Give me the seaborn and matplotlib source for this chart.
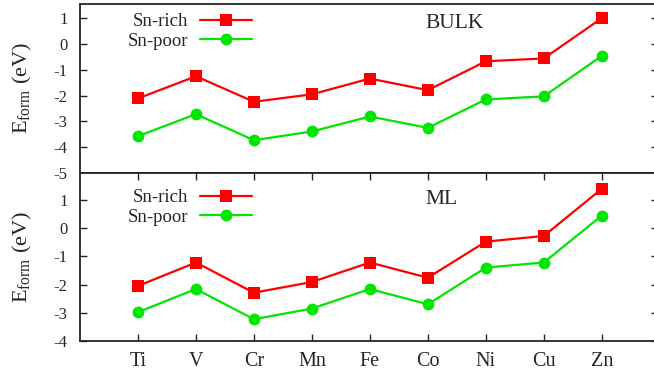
import matplotlib
matplotlib.use("Agg")
import matplotlib.pyplot as plt
import seaborn as sns
import pandas as pd

elements = ["Ti", "V", "Cr", "Mn", "Fe", "Co", "Ni", "Cu", "Zn"]
bulk_rich = [-2.11, -1.25, -2.24, -1.95, -1.34, -1.79, -0.67, -0.56, 1.00]
bulk_poor = [-3.57, -2.72, -3.73, -3.39, -2.81, -3.25, -2.15, -2.03, -0.46]
ml_rich = [-2.05, -1.22, -2.29, -1.91, -1.22, -1.76, -0.48, -0.28, 1.39]
ml_poor = [-2.98, -2.16, -3.23, -2.85, -2.16, -2.70, -1.40, -1.22, 0.44]
series_names = ["Sn-rich", "Sn-poor"]
panel_titles = ["BULK", "ML"]

sns.set_style("ticks")
plt.rcParams["font.family"] = ["Liberation Serif", "DejaVu Serif"]
plt.rcParams["mathtext.fontset"] = "custom"
plt.rcParams["mathtext.rm"] = "Liberation Serif"
plt.rcParams["mathtext.it"] = "Liberation Serif:italic"
plt.rcParams["axes.unicode_minus"] = False

W, H = 654, 380
fig = plt.figure(figsize=(W / 100, H / 100), dpi=100)
x0, x1 = 80, 658
left = x0 / W
width = (x1 - x0) / W
ax1 = fig.add_axes([left, 1 - 173 / H, width, (173 - 4) / H])
ax2 = fig.add_axes([left, 1 - 341 / H, width, (341 - 173) / H])

pos = list(range(1, len(elements) + 1))
palette = {"Sn-rich": "#ff0000", "Sn-poor": "#00e600"}
markers = {"Sn-rich": "s", "Sn-poor": "o"}

def make_df(rich, poor):
    return pd.DataFrame({
        "x": pos + pos,
        "E": list(rich) + list(poor),
        "series": [series_names[0]] * len(pos) + [series_names[1]] * len(pos),
    })

for ax, rich, poor, title, ylim, yticks, tx, ty in [
    (ax1, bulk_rich, bulk_poor, panel_titles[0], (-5, 1.55), range(-5, 2), 455, 24),
    (ax2, ml_rich, ml_poor, panel_titles[1], (-4, 1.95), range(-4, 2), 442, 199),
]:
    df = make_df(rich, poor)
    sns.lineplot(data=df, x="x", y="E", hue="series", style="series",
                 palette=palette, markers=markers, dashes=False,
                 markersize=8.5, linewidth=1.6, markeredgewidth=0,
                 ax=ax, legend=True)
    ax.set_xlim(0, 9.97)
    ax.set_ylim(*ylim)
    ax.set_yticks(list(yticks))
    ax.set_ylabel("E$_{\\rm form}$ (eV)", fontsize=16)
    ax.set_xlabel("")
    ax.tick_params(direction="in", length=5, width=1, labelsize=12,
                   right=True, left=True, top=False, bottom=True)
    ax.tick_params(axis="y", pad=9)
    for sp in ax.spines.values():
        sp.set_linewidth(1.3)
    fig.text(tx / W, 1 - ty / H, title, ha="center", va="center", fontsize=15.5)
    h, l = ax.get_legend_handles_labels()
    top_y = 13 if ax is ax1 else 189
    ax.legend(h, l, loc="upper left",
              bbox_to_anchor=(128 / W, 1 - top_y / H), bbox_transform=fig.transFigure,
              frameon=False, markerfirst=False, fontsize=13.5, handlelength=2.8,
              labelspacing=0.12, borderaxespad=0, borderpad=0, handletextpad=0.6)
    ax.yaxis.set_label_coords((34 - x0) / (x1 - x0), 0.5)

ax1.set_xticks(pos)
ax1.set_xticklabels([])
ax1.tick_params(axis="x", bottom=False)
ax2.set_xticks(pos)
ax2.set_xticklabels(elements)
ax2.tick_params(axis="x", top=True, bottom=True, pad=8, labelsize=14.5)

fig.savefig("out.png", dpi=100)
